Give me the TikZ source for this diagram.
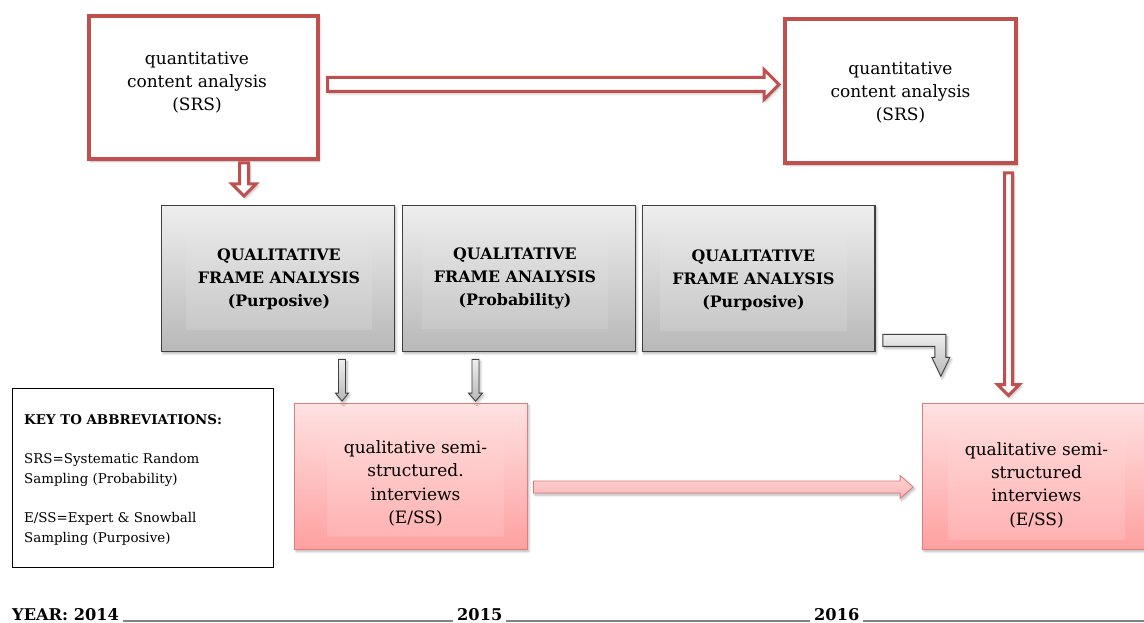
\documentclass[tikz,border=0pt]{standalone}
\usepackage{fontspec}
\setmainfont{DejaVu Serif}
\usetikzlibrary{calc,shadows.blur}

\definecolor{redline}{RGB}{192,80,77}
\definecolor{grayborder}{RGB}{64,64,64}
\definecolor{gtop}{RGB}{238,238,238}
\definecolor{gbot}{RGB}{184,184,184}
\definecolor{gitop}{RGB}{229,229,229}
\definecolor{gibot}{RGB}{200,200,200}
\definecolor{pinkborder}{RGB}{225,125,125}
\definecolor{ptop}{RGB}{255,226,226}
\definecolor{pbot}{RGB}{255,160,160}
\definecolor{pitop}{RGB}{255,214,214}
\definecolor{pibot}{RGB}{255,178,178}
\definecolor{parrtop}{RGB}{255,212,212}
\definecolor{parrbot}{RGB}{250,180,180}
\definecolor{parrline}{RGB}{215,125,125}
\definecolor{yearline}{RGB}{130,130,130}

\newcommand\blkR[6]{%
  \draw[#1] let \p1=(#2), \p2=(#3) in
    (\x1,\y1+#4) -- (\x2-#6,\y1+#4) -- (\x2-#6,\y1+#5) -- (\x2,\y1)
    -- (\x2-#6,\y1-#5) -- (\x2-#6,\y1-#4) -- (\x1,\y1-#4) -- cycle;}
\newcommand\blkD[6]{%
  \draw[#1] let \p1=(#2), \p2=(#3) in
    (\x1-#4,\y1) -- (\x1-#4,\y2+#6) -- (\x1-#5,\y2+#6) -- (\x1,\y2)
    -- (\x1+#5,\y2+#6) -- (\x1+#4,\y2+#6) -- (\x1+#4,\y1) -- cycle;}

\tikzset{
  softshadow/.style={blur shadow={shadow xshift=1.5pt, shadow yshift=-2pt,
      shadow opacity=30, shadow blur steps=5, shadow blur radius=2.5pt}},
  redbox/.style={draw=redline, line width=4pt, fill=white, outer sep=0pt,
      inner sep=0pt, softshadow},
  graybox/.style={draw=grayborder, line width=1.3pt, top color=gtop,
      bottom color=gbot, minimum width=232.7pt, minimum height=145.7pt,
      outer sep=0pt, inner sep=0pt, softshadow},
  grayinner/.style={top color=gitop, bottom color=gibot, minimum width=186pt,
      minimum height=99pt, inner sep=0pt, align=center,
      font=\bfseries\fontsize{15.8}{23}\selectfont},
  pinkbox/.style={draw=pinkborder, line width=1.2pt, top color=ptop,
      bottom color=pbot, minimum width=232.8pt, minimum height=145.8pt,
      outer sep=0pt, inner sep=0pt, softshadow},
  pinkinner/.style={top color=pitop, bottom color=pibot, minimum width=177pt,
      inner sep=0pt, align=center, font=\fontsize{17}{23.3}\selectfont},
  boxtext/.style={align=center, inner sep=0pt, font=\fontsize{17}{23}\selectfont},
  redarrow/.style={draw=redline, line width=3pt, fill=white, line join=miter,
      softshadow},
  grayarrow/.style={draw=grayborder, line width=0.9pt, top color=gtop,
      bottom color=gbot, line join=miter, softshadow},
  pinkarrow/.style={draw=parrline, line width=0.8pt, top color=parrtop,
      bottom color=parrbot, softshadow},
  keybox/.style={draw=black, line width=0.9pt, minimum width=261pt,
      minimum height=179pt, inner sep=0pt},
  keytext/.style={anchor=west, align=left, inner sep=0pt,
      font=\fontsize{13.4}{20}\selectfont},
  yeartext/.style={anchor=base west, inner sep=0pt,
      font=\bfseries\fontsize{16.2}{18}\selectfont},
  yearrule/.style={draw=yearline, line width=1.2pt},
}

\begin{document}
\begin{tikzpicture}[x=1pt,y=-1pt]
\clip (0,0) rectangle (1144,623);
\useasboundingbox (0,0) rectangle (1144,623);

% top red boxes
\node[redbox, minimum width=229pt, minimum height=143pt] (q1) at (203.5,87.5) {};
\node[boxtext] (q1t) at (197,82.5) {quantitative\\content analysis\\(SRS)};
\node[redbox, minimum width=231pt, minimum height=144pt] (q2) at (900.5,91) {};
\node[boxtext] (q2t) at (900.5,92.5) {quantitative\\content analysis\\(SRS)};

% gray boxes
\node[graybox] (g1) at (278,278.5) {};
\node[grayinner] (g1t) at (279,279.5) {QUALITATIVE\\FRAME ANALYSIS\\(Purposive)};
\node[graybox] (g2) at (519,278.5) {};
\node[grayinner] (g2t) at (515,278.5) {QUALITATIVE\\FRAME ANALYSIS\\(Probability)};
\node[graybox] (g3) at (758.5,278.5) {};
\node[grayinner] (g3t) at (753.5,280.5) {QUALITATIVE\\FRAME ANALYSIS\\(Purposive)};

% pink boxes
\node[pinkbox] (p1) at (411,476.5) {};
\node[pinkinner, minimum height=106pt] (p1t) at (415.5,483.5)
  {qualitative semi-\\structured.\\interviews\\(E/SS)};
\node[pinkbox] (p2) at (1039,476.5) {};
\node[pinkinner, minimum height=109pt] (p2t) at (1036.5,485)
  {qualitative semi-\\structured\\interviews\\(E/SS)};

% key
\node[keybox] (key) at (142.5,477.5) {};
\node[keytext] (keyt) at (24,480.5)
  {\textbf{KEY TO ABBREVIATIONS:}\\[19pt]
   SRS=Systematic Random\\Sampling (Probability)\\[19pt]
   E/SS=Expert \& Snowball\\Sampling (Purposive)};

% arrow end points
\coordinate (a1s) at ($(q1.east)+(9.5,-3)$);
\coordinate (a1e) at ($(q2.west)+(-6,-6.5)$);
\coordinate (a2s) at ($(q1.south)+(40.5,4)$);
\coordinate (a2e) at ($(q1.south)+(40.5,37)$);
\coordinate (a3s) at ($(q2.south)+(108,10)$);
\coordinate (a3e) at ($(p2.north)+(-31,-8)$);
\coordinate (a4s) at ($(g1.south)+(64,8)$);
\coordinate (a4e) at ($(p1.north)+(-69,-2.5)$);
\coordinate (a5s) at ($(g2.south)+(-43.5,8)$);
\coordinate (a5e) at ($(p1.north)+(64.5,-2.5)$);
\coordinate (a6s) at ($(p1.east)+(6,10.5)$);
\coordinate (a6e) at ($(p2.west)+(-9.5,10.5)$);

% arrows
\blkR{redarrow}{a1s}{a1e}{7pt}{15pt}{15pt}
\blkD{redarrow}{a2s}{a2e}{4.5pt}{12pt}{12pt}
\blkD{redarrow}{a3s}{a3e}{4pt}{11pt}{11pt}
\blkD{grayarrow}{a4s}{a4e}{3.5pt}{6.5pt}{8pt}
\blkD{grayarrow}{a5s}{a5e}{3.5pt}{7pt}{8pt}
\blkR{pinkarrow}{a6s}{a6e}{6pt}{11.5pt}{13pt}
\begin{scope}[shift={(g3.south east)}]
  \draw[grayarrow] (8,-17) -- (71,-17) -- (71,6) -- (75,6) -- (66,25)
    -- (57,6) -- (60,6) -- (60,-5) -- (8,-5) -- cycle;
\end{scope}

% year line
\node[yeartext] (y14) at (12,620) {YEAR: 2014};
\node[yeartext] (y15) at (457,620) {2015};
\node[yeartext] (y16) at (814,620) {2016};
\coordinate (yend) at (1144,621);
\draw[yearrule] ([xshift=4pt,yshift=-1pt]y14.base east) -- ([xshift=-4pt,yshift=-1pt]y15.base west);
\draw[yearrule] ([xshift=4pt,yshift=-1pt]y15.base east) -- ([xshift=-4pt,yshift=-1pt]y16.base west);
\draw[yearrule] ([xshift=4pt,yshift=-1pt]y16.base east) -- (yend);
\end{tikzpicture}
\end{document}
